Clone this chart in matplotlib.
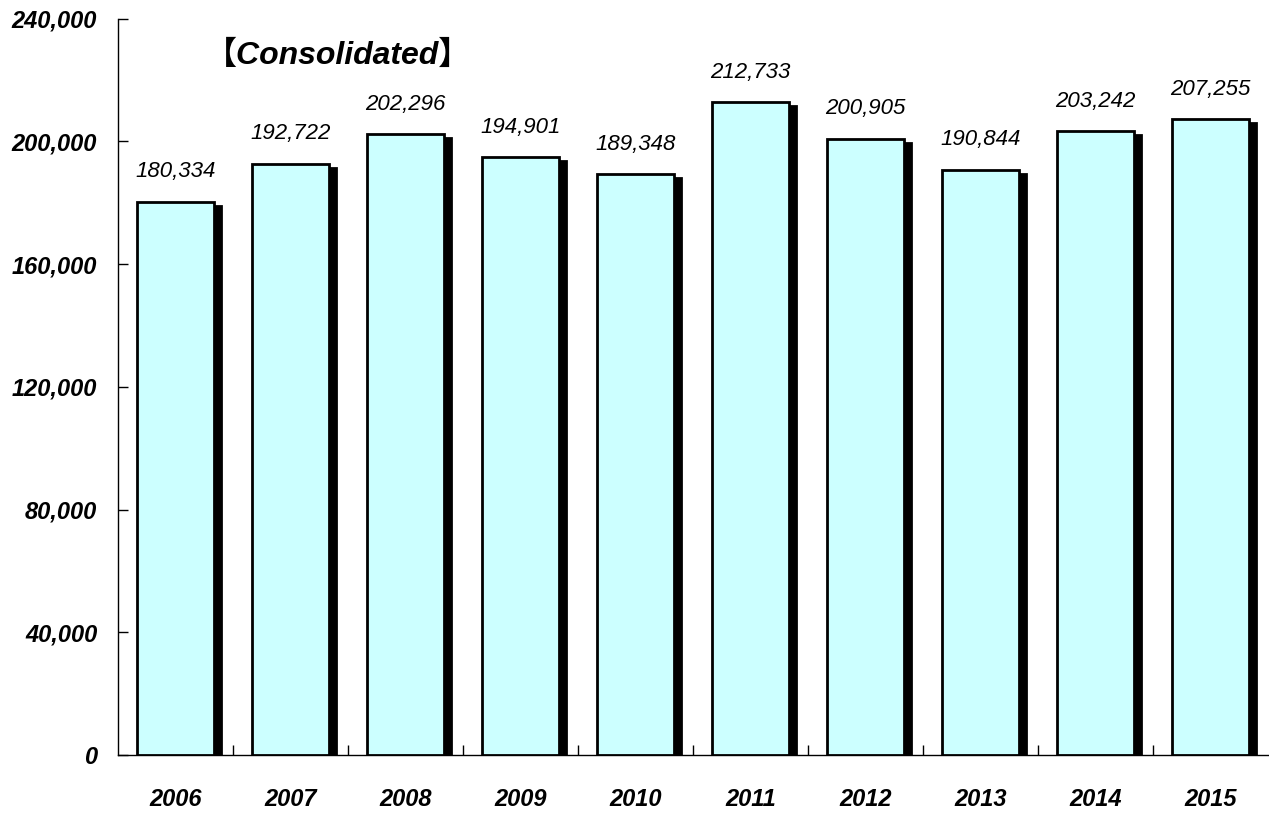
import matplotlib.pyplot as plt
import matplotlib.transforms as mtransforms
from matplotlib.ticker import FuncFormatter, MultipleLocator, FixedLocator

# Consolidated figures by fiscal year
years = ['2006', '2007', '2008', '2009', '2010', '2011', '2012', '2013', '2014', '2015']
values = [180334, 192722, 202296, 194901, 189348, 212733, 200905, 190844, 203242, 207255]

fig = plt.figure(figsize=(12.69, 8.14), dpi=100)
ax = fig.add_axes([0.093, 0.0725, 0.906, 0.9045])

x = list(range(len(years)))
width = 0.67

# black drop shadow, shifted a few pixels right and down
shadow = mtransforms.offset_copy(ax.transData, fig=fig, x=7, y=-4, units='dots')
ax.bar(x, values, width=width, color='black', edgecolor='black', linewidth=2,
       transform=shadow, zorder=2)
ax.bar(x, values, width=width, color='#CCFFFF', edgecolor='black', linewidth=2,
       zorder=3)

for xi, v in zip(x, values):
    ax.annotate(f'{v:,}', (xi, v), xytext=(0, 14), textcoords='offset points',
                ha='center', va='bottom', fontsize=16, fontstyle='italic',
                family=['Liberation Sans', 'DejaVu Sans'])

ax.set_xlim(-0.5, len(years) - 0.5)
ax.set_ylim(0, 240000)
ax.yaxis.set_major_locator(MultipleLocator(40000))
ax.yaxis.set_major_formatter(FuncFormatter(lambda v, p: f'{int(v):,}'))

# year labels centered under bars, tick marks between categories
ax.set_xticks(x)
ax.set_xticklabels(years)
ax.xaxis.set_minor_locator(FixedLocator([i + 0.5 for i in range(len(years) - 1)]))
ax.tick_params(axis='x', which='major', length=0, pad=24)
ax.tick_params(axis='x', which='minor', direction='in', length=7, width=1)
ax.tick_params(axis='y', direction='in', length=7, width=1, pad=15)

for lab in ax.get_xticklabels() + ax.get_yticklabels():
    lab.set_fontsize(17)
    lab.set_fontweight('bold')
    lab.set_fontstyle('italic')
    lab.set_family(['Liberation Sans', 'DejaVu Sans'])

for side in ['top', 'right']:
    ax.spines[side].set_visible(False)
for side in ['left', 'bottom']:
    ax.spines[side].set_linewidth(1)

ax.text(0.0757, 0.95, '【Consolidated】', transform=ax.transAxes,
        fontsize=23, fontweight='bold', fontstyle='italic', ha='left', va='center',
        family=['Liberation Sans', 'Noto Sans CJK JP'])

fig.savefig('out.png', dpi=100)
